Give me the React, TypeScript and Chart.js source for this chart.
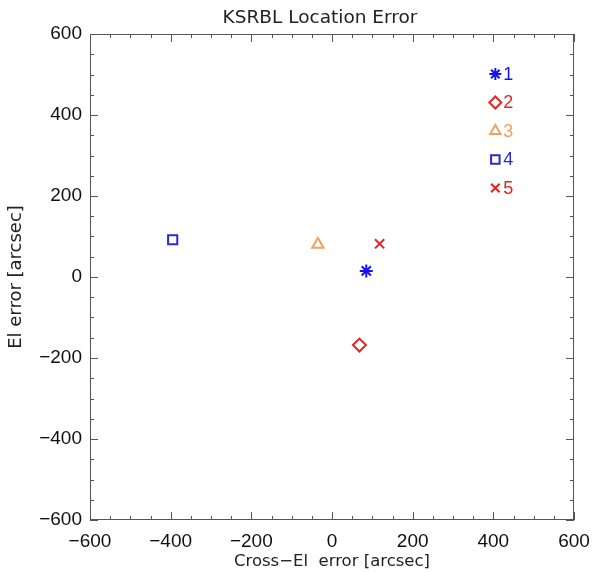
import React, { useEffect, useRef } from "react";
import { Chart, registerables } from "chart.js";
import { drawPoint } from "chart.js/helpers";

Chart.register(...registerables);

const chartTitle = "KSRBL Location Error";
const seriesLabels = ["1", "2", "3", "4", "5"];
const crossEl = [85, 68, -35, -395, 118];
const elErr = [15, -168, 80, 92, 82];
const pointStyles = ["star", "rectRot", "triangle", "rect", "crossRot"];
const colors = ["#1414f0", "#e02828", "#f0a060", "#2a2ad0", "#e82020"];
const axisMin = -600;
const axisMax = 600;
const majorStep = 200;
const minorStep = 50;

const fmt = (v: number) => (v < 0 ? "\u2212" + Math.abs(v) : String(v));

const ticksPlugin = {
  id: "idlBox",
  afterDatasetsDraw(chart: any) {
    const { ctx, chartArea: a, scales } = chart;
    const xs = scales.x;
    const ys = scales.y;
    ctx.save();
    ctx.strokeStyle = "#555";
    ctx.lineWidth = 1;
    ctx.strokeRect(a.left + 0.5, a.top + 0.5, a.right - a.left - 1, a.bottom - a.top - 1);
    ctx.beginPath();
    for (let v = axisMin; v <= axisMax; v += minorStep) {
      const len = v % majorStep === 0 ? 8 : 4;
      const px = Math.round(xs.getPixelForValue(v)) + 0.5;
      ctx.moveTo(px, a.bottom);
      ctx.lineTo(px, a.bottom - len);
      ctx.moveTo(px, a.top);
      ctx.lineTo(px, a.top + len);
      const py = Math.round(ys.getPixelForValue(v)) + 0.5;
      ctx.moveTo(a.left, py);
      ctx.lineTo(a.left + len, py);
      ctx.moveTo(a.right, py);
      ctx.lineTo(a.right - len, py);
    }
    ctx.stroke();

    // title
    ctx.fillStyle = "#222";
    ctx.font = "18.5px 'DejaVu Sans', sans-serif";
    ctx.textAlign = "center";
    ctx.textBaseline = "middle";
    ctx.fillText(chartTitle, 320, 18);

    // legend
    const lx = xs.getPixelForValue(400);
    const top = a.top;
    ctx.font = "18px 'Liberation Sans', Arial, sans-serif";
    ctx.textBaseline = "middle";
    ctx.textAlign = "left";
    for (let i = 0; i < seriesLabels.length; i++) {
      const y = top + 40 + i * 28.5;
      ctx.strokeStyle = colors[i];
      ctx.fillStyle = "rgba(0,0,0,0)";
      ctx.lineWidth = 2;
      drawPoint(ctx, { pointStyle: pointStyles[i], radius: 6, rotation: 0, borderWidth: 2 }, lx + 2, y);
      ctx.fillStyle = colors[i];
      ctx.fillText(seriesLabels[i], lx + 10, y + 1);
    }
    ctx.restore();
  },
};

export default function App() {
  const ref = useRef<HTMLCanvasElement>(null);
  useEffect(() => {
    document.body.style.margin = "0";
    const datasets = seriesLabels.map((l, i) => ({
      label: l,
      data: [{ x: crossEl[i], y: elErr[i] }],
      pointStyle: pointStyles[i],
      pointRadius: 6.5,
      pointBorderWidth: 2,
      borderColor: colors[i],
      backgroundColor: "rgba(0,0,0,0)",
      pointBackgroundColor: "rgba(0,0,0,0)",
    }));
    const tickFont = { family: "'Liberation Sans', Arial, sans-serif", size: 19 };
    const chart = new Chart(ref.current!, {
      type: "scatter",
      data: { datasets },
      plugins: [ticksPlugin],
      options: {
        animation: false,
        responsive: false,
        layout: { padding: { left: 0, right: 19, top: 34, bottom: 0 } },
        plugins: {
          legend: { display: false },
          tooltip: { enabled: false },
          title: { display: false },
        },
        scales: {
          x: {
            type: "linear",
            min: axisMin,
            max: axisMax,
            grid: { display: false },
            border: { display: false },
            ticks: { stepSize: majorStep, color: "#111", font: tickFont, padding: 2, maxRotation: 0, callback: (v: any) => fmt(Number(v)) },
            title: { display: true, text: "Cross\u2212El  error [arcsec]", color: "#222", font: { family: "'DejaVu Sans', sans-serif", size: 16.5 }, padding: { top: 0, bottom: 0 } },
            afterFit: (s: any) => { s.height = 52; },
          },
          y: {
            type: "linear",
            min: axisMin,
            max: axisMax,
            grid: { display: false },
            border: { display: false },
            ticks: { stepSize: majorStep, color: "#111", font: tickFont, padding: 0, callback: (v: any) => fmt(Number(v)) },
            title: { display: true, text: "El error [arcsec]", color: "#222", font: { family: "'DejaVu Sans', sans-serif", size: 18 }, padding: { top: 6, bottom: 0 } },
            afterFit: (s: any) => { s.width = 90; },
          },
        },
      },
    } as any);
    return () => chart.destroy();
  }, []);
  return <canvas ref={ref} width={593} height={572} style={{ display: "block" }} />;
}
